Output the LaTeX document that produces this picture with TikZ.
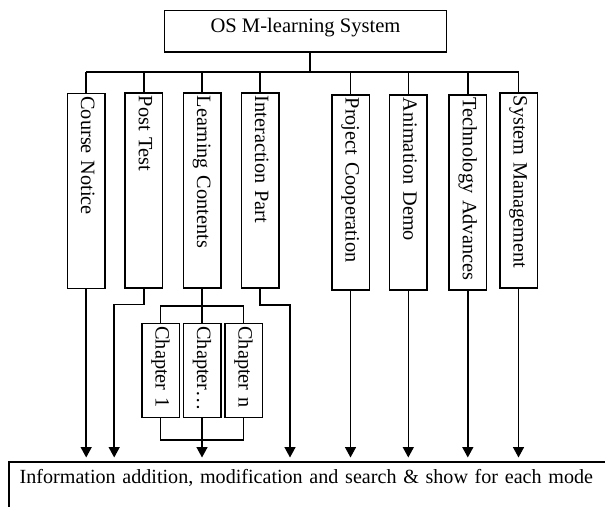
\documentclass[tikz,border=0pt]{standalone}
\usepackage{fontspec}
\setmainfont{Liberation Serif}
\usetikzlibrary{arrows.meta}
\tikzset{
  chart/.style={
    line width=1.5pt,
    x=1pt, y=-1pt,
    font=\fontsize{20.6}{24}\selectfont
  },
  top-box/.style={
    draw, minimum width=282pt, minimum height=41.5pt, inner sep=0pt,
    text height=14pt, text depth=12pt
  },
  part-box/.style={
    draw, rotate=-90, anchor=west, minimum height=37.5pt,
    inner xsep=3pt, inner ysep=0pt, align=left,
    font=\fontsize{20.3}{24}\selectfont,
    text height=14.5pt, text depth=4.5pt
  },
  col-box/.style={part-box, minimum width=195pt, text width=189pt},
  chap-box/.style={part-box, minimum width=94pt, text width=88pt},
  info-box/.style={
    draw, anchor=north west, inner xsep=10.7pt, inner ysep=7pt,
    font=\fontsize{20.1}{24}\selectfont,
    text width=598pt, align=left, text height=15pt, text depth=40pt
  },
  link-arrow/.style={-{Triangle[length=10.5pt,width=11pt]}, shorten >=3.5pt}
}

\begin{document}
\begin{tikzpicture}[chart]
  \useasboundingbox (0,0) rectangle (605,506);
  \clip (0,0) rectangle (605,506);
  % Root
  \node[top-box] (os) at (305.5,31.2) {OS M-learning System};
  \coordinate (stem) at (310,72);
  % Modules
  \node[col-box] (cn) at (86.2,92.7) {Course Notice};
  \node[col-box] (pt) at (143.9,92) {Post Test};
  \node[col-box] (lc) at (202,92) {Learning Contents};
  \node[col-box] (ip) at (260.2,92) {Interaction Part};
  \node[col-box] (pc) at (350.5,94) {Project Cooperation};
  \node[col-box] (ad) at (408.3,94) {Animation Demo};
  \node[col-box] (ta) at (467.8,94) {Technology Advances};
  \node[col-box] (sm) at (518.5,92) {System Management};
  % Chapters
  \node[chap-box] (ch1) at (160.5,322.7) {Chapter 1};
  \node[chap-box] (chd) at (202,322.7) {Chapter…};
  \node[chap-box] (chn) at (243.6,322.7) {Chapter n};
  % Shared mode
  \node[info-box] (info) at (8.3,461) {Information addition, modification and search \& show for each mode};

  % Tree
  \draw (os.south -| stem) -- (stem);
  \draw (cn.west |- stem) -- (sm.west |- stem);
  \foreach \m in {cn,pt,lc,ip,pc,ad,ta,sm}
    \draw (\m.west |- stem) -- (\m.west);

  % Chapter split
  \coordinate (chbus) at (0,306);
  \draw (lc.east) -- (chd.west);
  \draw (ch1.west) |- (chn.west |- chbus) -- (chn.west);
  % Chapter merge
  \coordinate (chlow) at (0,440);
  \draw (ch1.east) |- (chn.east |- chlow) -- (chn.east);
  \draw[link-arrow] (chd.east) -- (chd.east |- info.north);

  % Straight drops
  \foreach \m in {cn,pc,ad,ta,sm}
    \draw[link-arrow] (\m.east) -- (\m.east |- info.north);
  % Bent drops
  \coordinate (ptbend) at (114.2,304.3);
  \coordinate (ipbend) at (290,305);
  \draw[link-arrow] (pt.east) |- (ptbend) -- (ptbend |- info.north);
  \draw[link-arrow] (ip.east) |- (ipbend) -- (ipbend |- info.north);
\end{tikzpicture}
\end{document}
